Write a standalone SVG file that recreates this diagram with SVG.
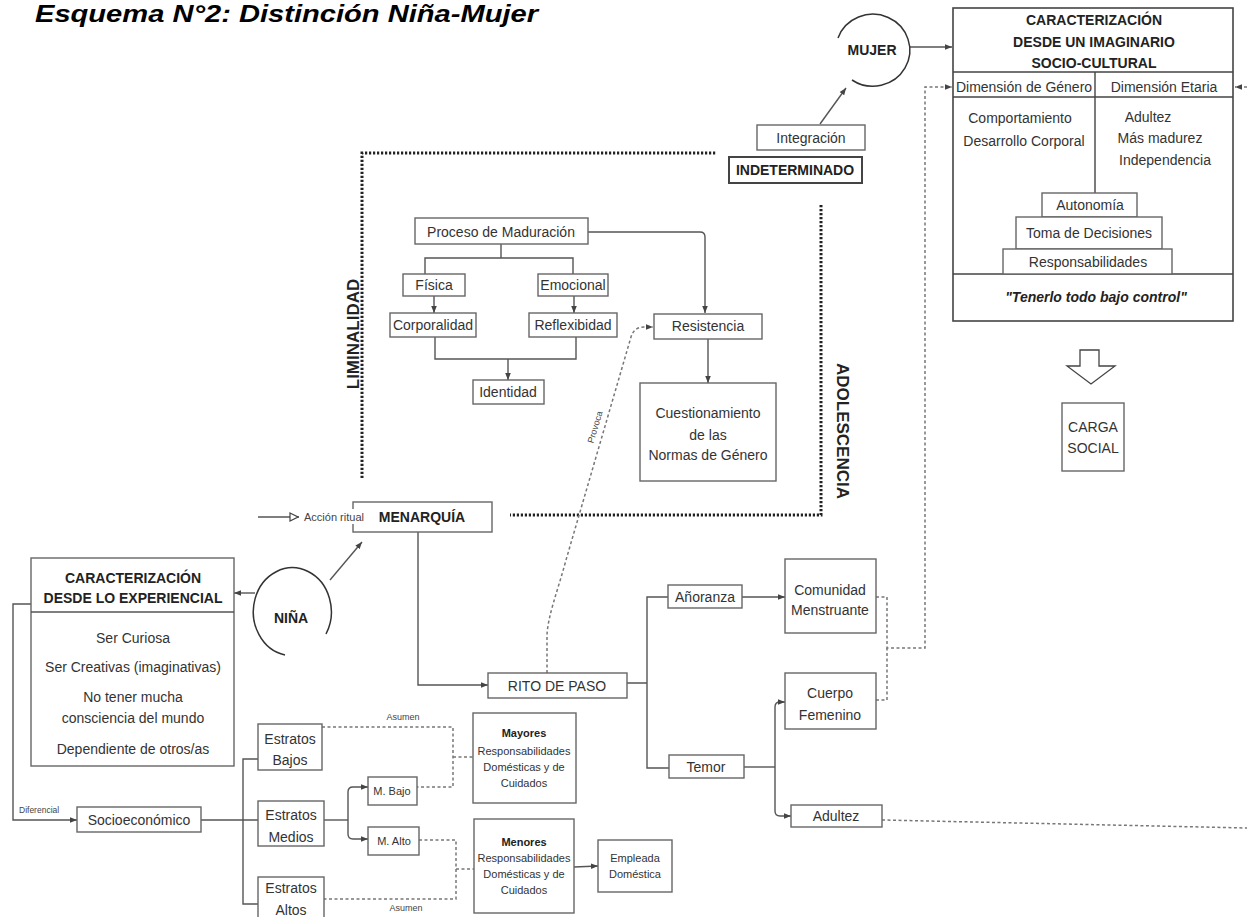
<svg xmlns="http://www.w3.org/2000/svg" width="1247" height="917" viewBox="0 0 1247 917">
<style>
text{font-family:"Liberation Sans",Arial,sans-serif;fill:#333;font-size:14px;text-anchor:middle}
.b{font-weight:bold;fill:#222}
.s11{font-size:11px}
.box{fill:#fff;stroke:#666;stroke-width:1.4}
.dbox{fill:#fff;stroke:#444;stroke-width:1.6}
.ln{fill:none;stroke:#555;stroke-width:1.4}
.dash{fill:none;stroke:#777;stroke-width:1.5;stroke-dasharray:3 2.5}
.dot{fill:none;stroke:#222;stroke-width:3;stroke-dasharray:2.2 1.8}
.tiny{font-size:9px;fill:#444}
</style>
<defs>
<marker id="ah" viewBox="0 0 10 10" refX="10" refY="5" markerWidth="7" markerHeight="7" markerUnits="userSpaceOnUse" orient="auto"><path d="M0,1 L10,5 L0,9 z" fill="#444"/></marker>
<marker id="oh" viewBox="0 0 10 10" refX="10" refY="5" markerWidth="10" markerHeight="10" markerUnits="userSpaceOnUse" orient="auto"><path d="M1,1 L9,5 L1,9 z" fill="#fff" stroke="#444" stroke-width="1.2"/></marker>
</defs>
<rect width="1247" height="917" fill="#fff"/>

<text x="35" y="22" class="b" style="font-size:24px;font-style:italic;text-anchor:start;fill:#000" textLength="503" lengthAdjust="spacingAndGlyphs">Esquema N°2: Distinción Niña-Mujer</text>

<!-- dotted frames -->
<g id="frames">
<path class="dot" d="M362,478 V153 H717"/>
<path class="dot" d="M821,205 V515 H510"/>
<text class="b" style="font-size:17px" transform="rotate(-90 359 334)" x="359" y="334">LIMINALIDAD</text>
<text class="b" style="font-size:17px" transform="rotate(90 837 431)" x="837" y="431">ADOLESCENCIA</text>
</g>

<g id="connectors">
<line class="ln" x1="910" y1="47" x2="952" y2="47" marker-end="url(#ah)"/>
<line class="ln" x1="820" y1="124" x2="846" y2="88" marker-end="url(#ah)"/>
<path class="ln" d="M588,232 H700 Q705,232 705,237 V313" marker-end="url(#ah)"/>
<path class="ln" d="M501,244 V258 M425,274 V258 H573 V274"/>
<line class="ln" x1="434" y1="296" x2="434" y2="313" marker-end="url(#ah)"/>
<line class="ln" x1="574" y1="296" x2="574" y2="313" marker-end="url(#ah)"/>
<path class="ln" d="M435,337 V359 H576 V337"/>
<line class="ln" x1="508" y1="359" x2="508" y2="380" marker-end="url(#ah)"/>
<line class="ln" x1="708" y1="339" x2="708" y2="383" marker-end="url(#ah)"/>
<path class="dash" d="M547,673 V635 C548,615 558,590 566,560 L631,337 Q634,327 644,327 L653,327" marker-end="url(#ah)"/>
<text class="tiny" transform="rotate(-73 598 428)" x="598" y="428">Provoca</text>
<line class="ln" x1="258" y1="517" x2="299" y2="517" marker-end="url(#oh)"/>
<line class="ln" x1="330" y1="580" x2="362" y2="542" marker-end="url(#ah)"/>
<path class="ln" d="M418,532 V685 H488" marker-end="url(#ah)"/>
<path class="ln" d="M627,683 H647 M668,597 H647 V768 H669"/>
<line class="ln" x1="742" y1="597" x2="785" y2="597" marker-end="url(#ah)"/>
<path class="ln" d="M744,767 H775"/>
<path class="ln" d="M775,767 V707 Q775,702 780,702 H785" marker-end="url(#ah)"/>
<path class="ln" d="M775,767 V811 Q775,816 780,816 H791" marker-end="url(#ah)"/>
<path class="dash" d="M876,597 H887 V648 H925 V87 H952" marker-end="url(#ah)"/>
<path class="dash" d="M876,700 H887 V648"/>
<path class="dash" d="M882,820 L1247,828"/>
<path class="dash" d="M1247,87 H1235" marker-end="url(#ah)"/>
<line class="ln" x1="255" y1="593" x2="234" y2="593" marker-end="url(#ah)"/>
<path class="ln" d="M31,604 H13 V820 H77" marker-end="url(#ah)"/>
<text class="tiny" x="19" y="813" style="text-anchor:start;font-size:8.5px">Diferencial</text>
<path class="ln" d="M201,820 H258 M258,759 H243 V904 H258"/>
<path class="ln" d="M324,820 H348"/>
<path class="ln" d="M348,820 V792 Q348,787 353,787 H368" marker-end="url(#ah)"/>
<path class="ln" d="M348,820 V834 Q348,839 353,839 H368" marker-end="url(#ah)"/>
<path class="dash" d="M322,727 H453 V787 H417 M453,757 H473"/>
<path class="dash" d="M419,840 H456 V899 H324 M456,869 H474"/>
<text class="tiny" x="403" y="720">Asumen</text>
<text class="tiny" x="406" y="911">Asumen</text>
<line class="ln" x1="574" y1="867" x2="598" y2="866" marker-end="url(#ah)"/>
</g>

<g id="mujer">
<path d="M838,38 A37,36 0 1 1 852,80" fill="none" stroke="#333" stroke-width="1.5"/>
<text class="b" x="872" y="55">MUJER</text>
</g>

<g id="integracion"><rect class="box" x="757" y="125" width="108" height="25"/><text x="811" y="143">Integración</text></g>
<g id="indeterminado"><rect class="box" x="729" y="157" width="133" height="26" style="stroke:#444;stroke-width:2"/><text class="b" x="795" y="175">INDETERMINADO</text></g>

<g id="imaginario">
<rect class="dbox" x="953" y="8" width="280" height="313"/>
<path class="ln" style="stroke:#444" d="M953,72 H1233 M953,97 H1233 M1095,72 V193 M953,274 H1233"/>
<text class="b" x="1094" y="25">CARACTERIZACIÓN</text>
<text class="b" x="1094" y="47">DESDE UN IMAGINARIO</text>
<text class="b" x="1094" y="68">SOCIO-CULTURAL</text>
<text x="1024" y="92">Dimensión de Género</text>
<text x="1164" y="92">Dimensión Etaria</text>
<text x="1020" y="123">Comportamiento</text>
<text x="1024" y="146">Desarrollo Corporal</text>
<text x="1148" y="122">Adultez</text>
<text x="1160" y="143">Más madurez</text>
<text x="1165" y="165">Independencia</text>
<rect class="box" x="1042" y="193" width="95" height="24"/>
<rect class="box" x="1016" y="217" width="146" height="32"/>
<rect class="box" x="1003" y="249" width="169" height="25"/>
<text x="1090" y="210">Autonomía</text>
<text x="1089" y="238">Toma de Decisiones</text>
<text x="1088" y="267">Responsabilidades</text>
<text class="b" x="1096" y="302" style="font-style:italic">"Tenerlo todo bajo control"</text>
</g>

<g id="carga">
<path d="M1080,350 H1099 V366 H1115 L1091,384 L1067,366 H1080 Z" fill="#fff" stroke="#444" stroke-width="1.3"/>
<rect class="box" x="1062" y="403" width="62" height="68"/>
<text x="1093" y="432">CARGA</text>
<text x="1093" y="453">SOCIAL</text>
</g>

<g id="proceso"><rect class="box" x="415" y="218" width="173" height="26"/><text x="501" y="237">Proceso de Maduración</text></g>
<g id="fisica"><rect class="box" x="403" y="274" width="62" height="22"/><text x="434" y="290">Física</text></g>
<g id="emocional"><rect class="box" x="538" y="274" width="70" height="22"/><text x="573" y="290">Emocional</text></g>
<g id="corporalidad"><rect class="box" x="390" y="313" width="86" height="24"/><text x="433" y="330">Corporalidad</text></g>
<g id="reflexibidad"><rect class="box" x="529" y="313" width="88" height="24"/><text x="573" y="330">Reflexibidad</text></g>
<g id="identidad"><rect class="box" x="473" y="380" width="71" height="24"/><text x="508" y="397">Identidad</text></g>
<g id="resistencia"><rect class="box" x="654" y="314" width="108" height="25"/><text x="708" y="331">Resistencia</text></g>
<g id="cuestionamiento"><rect class="box" x="640" y="383" width="136" height="98"/><text x="708" y="418">Cuestionamiento</text><text x="708" y="440">de las</text><text x="708" y="460">Normas de Género</text></g>

<g id="menarquia"><rect class="box" x="353" y="502" width="139" height="30"/><text class="b" x="422" y="522">MENARQUÍA</text>
<rect x="302" y="509" width="64" height="15" fill="#fff"/><text x="334" y="521" style="font-size:11px;fill:#444">Acción ritual</text></g>

<g id="nina">
<path d="M326,634 A39,44 0 1 0 285,655" fill="none" stroke="#333" stroke-width="1.5"/>
<text class="b" x="291" y="623">NIÑA</text>
</g>

<g id="experiencial">
<rect class="box" x="31" y="558" width="203" height="208"/>
<path class="ln" d="M31,612 H234"/>
<text class="b" x="133" y="583">CARACTERIZACIÓN</text>
<text class="b" x="133" y="603">DESDE LO EXPERIENCIAL</text>
<text x="133" y="643">Ser Curiosa</text>
<text x="133" y="672">Ser Creativas (imaginativas)</text>
<text x="133" y="702">No tener mucha</text>
<text x="133" y="723">consciencia del mundo</text>
<text x="133" y="754">Dependiente de otros/as</text>
</g>

<g id="rito"><rect class="box" x="488" y="673" width="139" height="25"/><text x="557" y="691">RITO DE PASO</text></g>
<g id="anoranza"><rect class="box" x="668" y="585" width="74" height="23"/><text x="705" y="602">Añoranza</text></g>
<g id="temor"><rect class="box" x="669" y="755" width="75" height="23"/><text x="706" y="772">Temor</text></g>
<g id="comunidad"><rect class="box" x="785" y="559" width="91" height="74"/><text x="830" y="595">Comunidad</text><text x="830" y="615">Menstruante</text></g>
<g id="cuerpo"><rect class="box" x="785" y="673" width="91" height="56"/><text x="830" y="698">Cuerpo</text><text x="830" y="720">Femenino</text></g>
<g id="adultez"><rect class="box" x="791" y="805" width="91" height="22"/><text x="836" y="821">Adultez</text></g>

<g id="socio"><rect class="box" x="77" y="807" width="124" height="25"/><text x="139" y="825">Socioeconómico</text></g>
<g id="bajos"><rect class="box" x="258" y="724" width="64" height="46"/><text x="290" y="744">Estratos</text><text x="290" y="765">Bajos</text></g>
<g id="medios"><rect class="box" x="258" y="801" width="66" height="45"/><text x="291" y="820">Estratos</text><text x="291" y="842">Medios</text></g>
<g id="altos"><rect class="box" x="258" y="877" width="66" height="45"/><text x="291" y="893">Estratos</text><text x="291" y="915">Altos</text></g>
<g id="mbajo"><rect class="box" x="368" y="777" width="49" height="28"/><text class="s11" x="392" y="795">M. Bajo</text></g>
<g id="malto"><rect class="box" x="368" y="827" width="51" height="28"/><text class="s11" x="394" y="845">M. Alto</text></g>
<g id="mayores"><rect class="box" x="473" y="713" width="103" height="90"/><text class="s11 b" x="524" y="737">Mayores</text><text class="s11" x="524" y="755">Responsabilidades</text><text class="s11" x="524" y="771">Domésticas y de</text><text class="s11" x="524" y="787">Cuidados</text></g>
<g id="menores"><rect class="box" x="474" y="819" width="100" height="94"/><text class="s11 b" x="524" y="846">Menores</text><text class="s11" x="524" y="862">Responsabilidades</text><text class="s11" x="524" y="878">Domésticas y de</text><text class="s11" x="524" y="894">Cuidados</text></g>
<g id="empleada"><rect class="box" x="598" y="840" width="74" height="52"/><text class="s11" x="635" y="862">Empleada</text><text class="s11" x="635" y="878">Doméstica</text></g>
</svg>
